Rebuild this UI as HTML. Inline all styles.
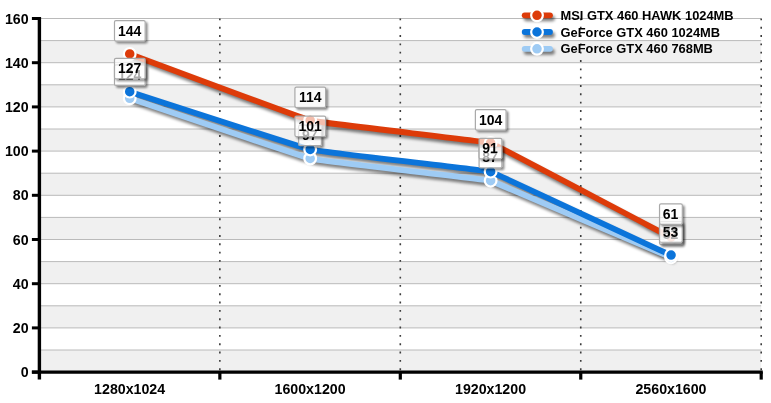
<!DOCTYPE html>
<html><head><meta charset="utf-8"><title>chart</title>
<style>html,body{margin:0;padding:0;background:#fff}body{width:771px;height:403px;overflow:hidden}svg{display:block;will-change:transform;opacity:0.999}text{font-family:"Liberation Sans",Arial,Helvetica,sans-serif;font-weight:bold;fill:#000}</style></head><body>
<svg width="771" height="403" viewBox="0 0 771 403">
<defs>
<filter id="sh" filterUnits="userSpaceOnUse" x="0" y="0" width="771" height="403"><feGaussianBlur in="SourceAlpha" stdDeviation="1.8"/><feOffset dx="1.5" dy="2.8"/><feComponentTransfer><feFuncA type="linear" slope="0.5"/></feComponentTransfer></filter>
<filter id="shb" filterUnits="userSpaceOnUse" x="0" y="0" width="771" height="403"><feGaussianBlur in="SourceAlpha" stdDeviation="0.9"/><feOffset dx="1.7" dy="2.0"/><feComponentTransfer><feFuncA type="linear" slope="0.45"/></feComponentTransfer><feComposite in2="SourceAlpha" operator="out"/></filter>
</defs>
<rect width="771" height="403" fill="#fff"/>
<rect x="39.40" y="40.60" width="721.80" height="22.10" fill="#f0f0f0"/>
<rect x="39.40" y="84.80" width="721.80" height="22.10" fill="#f0f0f0"/>
<rect x="39.40" y="129.00" width="721.80" height="22.10" fill="#f0f0f0"/>
<rect x="39.40" y="173.20" width="721.80" height="22.10" fill="#f0f0f0"/>
<rect x="39.40" y="217.40" width="721.80" height="22.10" fill="#f0f0f0"/>
<rect x="39.40" y="261.60" width="721.80" height="22.10" fill="#f0f0f0"/>
<rect x="39.40" y="305.80" width="721.80" height="22.10" fill="#f0f0f0"/>
<rect x="39.40" y="350.00" width="721.80" height="22.10" fill="#f0f0f0"/>
<line x1="39.40" x2="761.20" y1="372.10" y2="372.10" stroke="#bababa" stroke-width="1"/>
<line x1="39.40" x2="761.20" y1="350.00" y2="350.00" stroke="#bababa" stroke-width="1"/>
<line x1="39.40" x2="761.20" y1="327.90" y2="327.90" stroke="#bababa" stroke-width="1"/>
<line x1="39.40" x2="761.20" y1="305.80" y2="305.80" stroke="#bababa" stroke-width="1"/>
<line x1="39.40" x2="761.20" y1="283.70" y2="283.70" stroke="#bababa" stroke-width="1"/>
<line x1="39.40" x2="761.20" y1="261.60" y2="261.60" stroke="#bababa" stroke-width="1"/>
<line x1="39.40" x2="761.20" y1="239.50" y2="239.50" stroke="#bababa" stroke-width="1"/>
<line x1="39.40" x2="761.20" y1="217.40" y2="217.40" stroke="#bababa" stroke-width="1"/>
<line x1="39.40" x2="761.20" y1="195.30" y2="195.30" stroke="#bababa" stroke-width="1"/>
<line x1="39.40" x2="761.20" y1="173.20" y2="173.20" stroke="#bababa" stroke-width="1"/>
<line x1="39.40" x2="761.20" y1="151.10" y2="151.10" stroke="#bababa" stroke-width="1"/>
<line x1="39.40" x2="761.20" y1="129.00" y2="129.00" stroke="#bababa" stroke-width="1"/>
<line x1="39.40" x2="761.20" y1="106.90" y2="106.90" stroke="#bababa" stroke-width="1"/>
<line x1="39.40" x2="761.20" y1="84.80" y2="84.80" stroke="#bababa" stroke-width="1"/>
<line x1="39.40" x2="761.20" y1="62.70" y2="62.70" stroke="#bababa" stroke-width="1"/>
<line x1="39.40" x2="761.20" y1="40.60" y2="40.60" stroke="#bababa" stroke-width="1"/>
<line x1="39.40" x2="761.20" y1="18.50" y2="18.50" stroke="#bababa" stroke-width="1"/>
<line x1="219.85" x2="219.85" y1="18.40" y2="372.10" stroke="#3c3c3c" stroke-width="1.6" stroke-dasharray="1.9 6.43"/>
<line x1="400.30" x2="400.30" y1="18.40" y2="372.10" stroke="#3c3c3c" stroke-width="1.6" stroke-dasharray="1.9 6.43"/>
<line x1="580.75" x2="580.75" y1="18.40" y2="372.10" stroke="#3c3c3c" stroke-width="1.6" stroke-dasharray="1.9 6.43"/>
<line x1="761.20" x2="761.20" y1="18.40" y2="372.10" stroke="#3c3c3c" stroke-width="1.6" stroke-dasharray="1.9 6.43"/>
<line x1="39.40" x2="39.40" y1="17.00" y2="379.60" stroke="#000" stroke-width="3.4"/>
<line x1="31.90" x2="762.80" y1="372.10" y2="372.10" stroke="#000" stroke-width="3.4"/>
<line x1="31.90" x2="39.40" y1="372.10" y2="372.10" stroke="#000" stroke-width="3"/>
<text x="28.6" y="377.10" font-size="14.2" text-anchor="end">0</text>
<line x1="31.90" x2="39.40" y1="327.90" y2="327.90" stroke="#000" stroke-width="3"/>
<text x="28.6" y="332.90" font-size="14.2" text-anchor="end">20</text>
<line x1="31.90" x2="39.40" y1="283.70" y2="283.70" stroke="#000" stroke-width="3"/>
<text x="28.6" y="288.70" font-size="14.2" text-anchor="end">40</text>
<line x1="31.90" x2="39.40" y1="239.50" y2="239.50" stroke="#000" stroke-width="3"/>
<text x="28.6" y="244.50" font-size="14.2" text-anchor="end">60</text>
<line x1="31.90" x2="39.40" y1="195.30" y2="195.30" stroke="#000" stroke-width="3"/>
<text x="28.6" y="200.30" font-size="14.2" text-anchor="end">80</text>
<line x1="31.90" x2="39.40" y1="151.10" y2="151.10" stroke="#000" stroke-width="3"/>
<text x="28.6" y="156.10" font-size="14.2" text-anchor="end">100</text>
<line x1="31.90" x2="39.40" y1="106.90" y2="106.90" stroke="#000" stroke-width="3"/>
<text x="28.6" y="111.90" font-size="14.2" text-anchor="end">120</text>
<line x1="31.90" x2="39.40" y1="62.70" y2="62.70" stroke="#000" stroke-width="3"/>
<text x="28.6" y="67.70" font-size="14.2" text-anchor="end">140</text>
<line x1="31.90" x2="39.40" y1="18.50" y2="18.50" stroke="#000" stroke-width="3"/>
<text x="28.6" y="23.50" font-size="14.2" text-anchor="end">160</text>
<line x1="219.85" x2="219.85" y1="372.10" y2="379.60" stroke="#000" stroke-width="3.2"/>
<line x1="400.30" x2="400.30" y1="372.10" y2="379.60" stroke="#000" stroke-width="3.2"/>
<line x1="580.75" x2="580.75" y1="372.10" y2="379.60" stroke="#000" stroke-width="3.2"/>
<line x1="761.20" x2="761.20" y1="372.10" y2="379.60" stroke="#000" stroke-width="3.2"/>
<text x="129.62" y="394.3" font-size="14.2" text-anchor="middle">1280x1024</text>
<text x="310.07" y="394.3" font-size="14.2" text-anchor="middle">1600x1200</text>
<text x="490.53" y="394.3" font-size="14.2" text-anchor="middle">1920x1200</text>
<text x="670.98" y="394.3" font-size="14.2" text-anchor="middle">2560x1600</text>
<path d="M129.62 98.28 C129.62 98.28 302.86 156.85 310.07 158.50 C317.29 160.65 483.31 179.24 490.53 180.71 C497.74 183.29 670.98 258.00 670.98 257.40" fill="none" stroke="#000" stroke-width="5.8" stroke-linecap="round" stroke-linejoin="round" filter="url(#sh)"/>
<path d="M129.62 91.65 C129.62 91.65 302.86 147.84 310.07 149.44 C317.29 151.54 483.31 170.04 490.53 171.65 C497.74 174.37 670.98 255.68 670.98 255.08" fill="none" stroke="#000" stroke-width="5.8" stroke-linecap="round" stroke-linejoin="round" filter="url(#sh)"/>
<path d="M129.62 53.97 C129.62 53.97 302.86 118.60 310.07 120.38 C317.29 122.66 483.31 141.09 490.53 142.92 C497.74 145.86 670.98 237.78 670.98 237.18" fill="none" stroke="#000" stroke-width="5.8" stroke-linecap="round" stroke-linejoin="round" filter="url(#sh)"/>
<path d="M129.62 98.28 C129.62 98.28 302.86 156.85 310.07 158.50 C317.29 160.65 483.31 179.24 490.53 180.71 C497.74 183.29 670.98 258.00 670.98 257.40" fill="none" stroke="#9ECBF4" stroke-width="5.8" stroke-linecap="round" stroke-linejoin="round"/>
<circle cx="129.72" cy="98.28" r="5.85" fill="#9ECBF4" stroke="#fff" stroke-width="2.2"/>
<circle cx="310.18" cy="158.50" r="5.85" fill="#9ECBF4" stroke="#fff" stroke-width="2.2"/>
<circle cx="490.63" cy="180.71" r="5.85" fill="#9ECBF4" stroke="#fff" stroke-width="2.2"/>
<circle cx="671.08" cy="257.40" r="5.85" fill="#9ECBF4" stroke="#fff" stroke-width="2.2"/>
<path d="M129.62 91.65 C129.62 91.65 302.86 147.84 310.07 149.44 C317.29 151.54 483.31 170.04 490.53 171.65 C497.74 174.37 670.98 255.68 670.98 255.08" fill="none" stroke="#0B74DA" stroke-width="5.8" stroke-linecap="round" stroke-linejoin="round"/>
<circle cx="129.72" cy="91.65" r="5.85" fill="#0B74DA" stroke="#fff" stroke-width="2.2"/>
<circle cx="310.18" cy="149.44" r="5.85" fill="#0B74DA" stroke="#fff" stroke-width="2.2"/>
<circle cx="490.63" cy="171.65" r="5.85" fill="#0B74DA" stroke="#fff" stroke-width="2.2"/>
<circle cx="671.08" cy="255.08" r="5.85" fill="#0B74DA" stroke="#fff" stroke-width="2.2"/>
<path d="M129.62 53.97 C129.62 53.97 302.86 118.60 310.07 120.38 C317.29 122.66 483.31 141.09 490.53 142.92 C497.74 145.86 670.98 237.78 670.98 237.18" fill="none" stroke="#DD3B09" stroke-width="5.8" stroke-linecap="round" stroke-linejoin="round"/>
<circle cx="129.72" cy="53.97" r="5.85" fill="#DD3B09" stroke="#fff" stroke-width="2.2"/>
<circle cx="310.18" cy="120.38" r="5.85" fill="#DD3B09" stroke="#fff" stroke-width="2.2"/>
<circle cx="490.63" cy="142.92" r="5.85" fill="#DD3B09" stroke="#fff" stroke-width="2.2"/>
<circle cx="671.08" cy="237.18" r="5.85" fill="#DD3B09" stroke="#fff" stroke-width="2.2"/>
<line x1="524.7" x2="550.0" y1="15.3" y2="15.3" stroke="#000" stroke-width="5.8" stroke-linecap="round" filter="url(#sh)"/>
<line x1="524.7" x2="550.0" y1="15.3" y2="15.3" stroke="#DD3B09" stroke-width="5.8" stroke-linecap="round"/>
<circle cx="537" cy="15.3" r="5.85" fill="#DD3B09" stroke="#fff" stroke-width="2.2"/>
<text x="560.5" y="19.7" font-size="12.88">MSI GTX 460 HAWK 1024MB</text>
<line x1="524.7" x2="550.0" y1="32.0" y2="32.0" stroke="#000" stroke-width="5.8" stroke-linecap="round" filter="url(#sh)"/>
<line x1="524.7" x2="550.0" y1="32.0" y2="32.0" stroke="#0B74DA" stroke-width="5.8" stroke-linecap="round"/>
<circle cx="537" cy="32.0" r="5.85" fill="#0B74DA" stroke="#fff" stroke-width="2.2"/>
<text x="560.5" y="36.5" font-size="12.88">GeForce GTX 460 1024MB</text>
<line x1="524.7" x2="550.0" y1="48.8" y2="48.8" stroke="#000" stroke-width="5.8" stroke-linecap="round" filter="url(#sh)"/>
<line x1="524.7" x2="550.0" y1="48.8" y2="48.8" stroke="#9ECBF4" stroke-width="5.8" stroke-linecap="round"/>
<circle cx="537" cy="48.8" r="5.85" fill="#9ECBF4" stroke="#fff" stroke-width="2.2"/>
<text x="560.5" y="53.2" font-size="12.88">GeForce GTX 460 768MB</text>
<rect x="113.98" y="64.43" width="31.70" height="21.5" rx="2" ry="2" fill="#000" filter="url(#shb)"/>
<rect x="114.48" y="64.93" width="30.70" height="20.5" rx="1.5" ry="1.5" fill="#fff" fill-opacity="0.67" stroke="#a9a9a9" stroke-width="1.2"/>
<text x="129.72" y="79.93" font-size="14" text-anchor="middle">124</text>
<rect x="298.12" y="124.65" width="23.80" height="21.5" rx="2" ry="2" fill="#000" filter="url(#shb)"/>
<rect x="298.62" y="125.15" width="22.80" height="20.5" rx="1.5" ry="1.5" fill="#fff" fill-opacity="0.67" stroke="#a9a9a9" stroke-width="1.2"/>
<text x="309.68" y="140.15" font-size="14" text-anchor="middle">97</text>
<rect x="478.58" y="146.86" width="23.80" height="21.5" rx="2" ry="2" fill="#000" filter="url(#shb)"/>
<rect x="479.08" y="147.36" width="22.80" height="20.5" rx="1.5" ry="1.5" fill="#fff" fill-opacity="0.67" stroke="#a9a9a9" stroke-width="1.2"/>
<text x="490.13" y="162.36" font-size="14" text-anchor="middle">87</text>
<rect x="659.03" y="223.55" width="23.80" height="21.5" rx="2" ry="2" fill="#000" filter="url(#shb)"/>
<rect x="659.53" y="224.05" width="22.80" height="20.5" rx="1.5" ry="1.5" fill="#fff" fill-opacity="0.67" stroke="#a9a9a9" stroke-width="1.2"/>
<text x="670.58" y="239.05" font-size="14" text-anchor="middle">52</text>
<rect x="113.98" y="57.80" width="31.70" height="21.5" rx="2" ry="2" fill="#000" filter="url(#shb)"/>
<rect x="114.48" y="58.30" width="30.70" height="20.5" rx="1.5" ry="1.5" fill="#fff" fill-opacity="0.67" stroke="#a9a9a9" stroke-width="1.2"/>
<text x="129.72" y="73.30" font-size="14" text-anchor="middle">127</text>
<rect x="294.42" y="115.59" width="31.70" height="21.5" rx="2" ry="2" fill="#000" filter="url(#shb)"/>
<rect x="294.92" y="116.09" width="30.70" height="20.5" rx="1.5" ry="1.5" fill="#fff" fill-opacity="0.67" stroke="#a9a9a9" stroke-width="1.2"/>
<text x="310.18" y="131.09" font-size="14" text-anchor="middle">101</text>
<rect x="478.58" y="137.80" width="23.80" height="21.5" rx="2" ry="2" fill="#000" filter="url(#shb)"/>
<rect x="479.08" y="138.30" width="22.80" height="20.5" rx="1.5" ry="1.5" fill="#fff" fill-opacity="0.67" stroke="#a9a9a9" stroke-width="1.2"/>
<text x="490.13" y="153.30" font-size="14" text-anchor="middle">91</text>
<rect x="659.03" y="221.23" width="23.80" height="21.5" rx="2" ry="2" fill="#000" filter="url(#shb)"/>
<rect x="659.53" y="221.73" width="22.80" height="20.5" rx="1.5" ry="1.5" fill="#fff" fill-opacity="0.67" stroke="#a9a9a9" stroke-width="1.2"/>
<text x="670.58" y="236.73" font-size="14" text-anchor="middle">53</text>
<rect x="113.98" y="20.12" width="31.70" height="21.5" rx="2" ry="2" fill="#000" filter="url(#shb)"/>
<rect x="114.48" y="20.62" width="30.70" height="20.5" rx="1.5" ry="1.5" fill="#fff" fill-opacity="0.67" stroke="#a9a9a9" stroke-width="1.2"/>
<text x="129.72" y="35.62" font-size="14" text-anchor="middle">144</text>
<rect x="294.42" y="86.53" width="31.70" height="21.5" rx="2" ry="2" fill="#000" filter="url(#shb)"/>
<rect x="294.92" y="87.03" width="30.70" height="20.5" rx="1.5" ry="1.5" fill="#fff" fill-opacity="0.67" stroke="#a9a9a9" stroke-width="1.2"/>
<text x="310.18" y="102.03" font-size="14" text-anchor="middle">114</text>
<rect x="474.88" y="109.07" width="31.70" height="21.5" rx="2" ry="2" fill="#000" filter="url(#shb)"/>
<rect x="475.38" y="109.57" width="30.70" height="20.5" rx="1.5" ry="1.5" fill="#fff" fill-opacity="0.67" stroke="#a9a9a9" stroke-width="1.2"/>
<text x="490.63" y="124.57" font-size="14" text-anchor="middle">104</text>
<rect x="659.03" y="203.33" width="23.80" height="21.5" rx="2" ry="2" fill="#000" filter="url(#shb)"/>
<rect x="659.53" y="203.83" width="22.80" height="20.5" rx="1.5" ry="1.5" fill="#fff" fill-opacity="0.67" stroke="#a9a9a9" stroke-width="1.2"/>
<text x="670.58" y="218.83" font-size="14" text-anchor="middle">61</text>
</svg></body></html>
